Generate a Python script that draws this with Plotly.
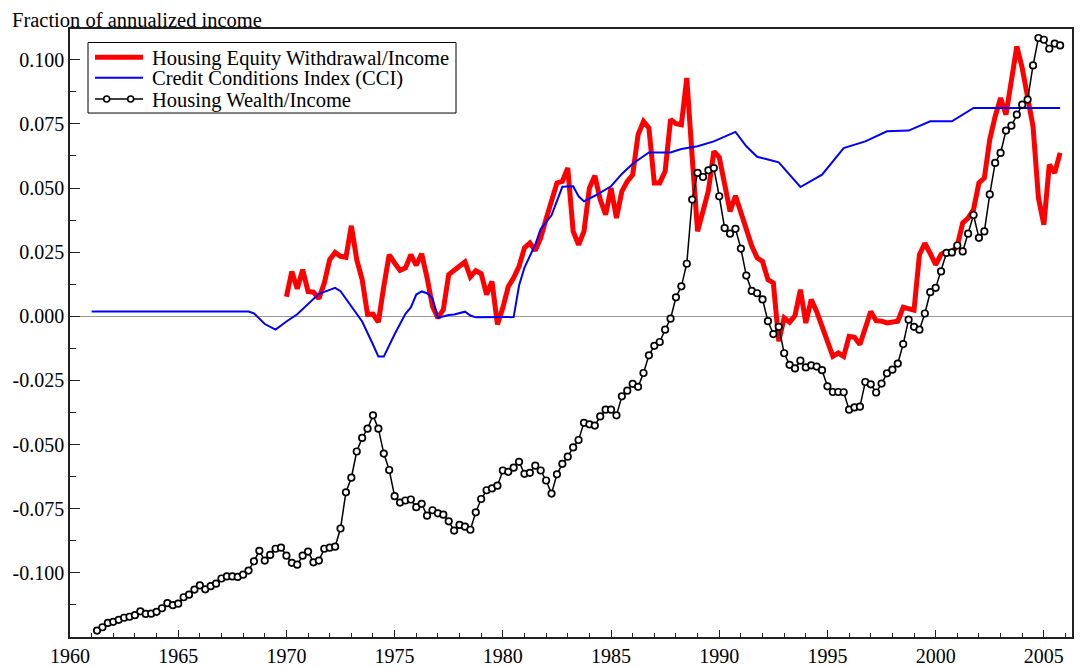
import numpy as np
import plotly.graph_objects as go

# quarterly dates
wealth_years = np.arange(1961.25, 2006.0, 0.25)
hew_years = np.arange(1970.0, 2006.0, 0.25)

# Housing Wealth/Income (scaled), 1961Q2 - 2005Q4
wealth = [
    -0.1225, -0.1212, -0.1195, -0.1191, -0.1183, -0.1175, -0.1171, -0.1165,
    -0.1150, -0.1160, -0.1159, -0.1152, -0.1138, -0.1118, -0.1126, -0.1120,
    -0.1095, -0.1085, -0.1065, -0.1049, -0.1064, -0.1052, -0.1042, -0.1022,
    -0.1014, -0.1014, -0.1016, -0.1007, -0.0991, -0.0955, -0.0914, -0.0952,
    -0.0930, -0.0906, -0.0902, -0.0933, -0.0961, -0.0968, -0.0933, -0.0917,
    -0.0959, -0.0952, -0.0906, -0.0902, -0.0898, -0.0827, -0.0686, -0.0629,
    -0.0527, -0.0474, -0.0438, -0.0386, -0.0438, -0.0535, -0.0599, -0.0701,
    -0.0726, -0.0718, -0.0714, -0.0744, -0.0731, -0.0777, -0.0756, -0.0768,
    -0.0773, -0.0799, -0.0835, -0.0813, -0.0820, -0.0832, -0.0764, -0.0712,
    -0.0678, -0.0671, -0.0660, -0.0601, -0.0606, -0.0590, -0.0567, -0.0614,
    -0.0610, -0.0582, -0.0601, -0.0640, -0.0691, -0.0616, -0.0575, -0.0547,
    -0.0511, -0.0482, -0.0415, -0.0421, -0.0426, -0.0390, -0.0364, -0.0364,
    -0.0386, -0.0312, -0.0290, -0.0263, -0.0275, -0.0221, -0.0152, -0.0115,
    -0.0100, -0.0052, -0.0009, 0.0074, 0.0117, 0.0205, 0.0455, 0.0559,
    0.0543, 0.0569, 0.0578, 0.0468, 0.0344, 0.0322, 0.0341, 0.0264,
    0.0159, 0.0099, 0.0090, 0.0066, -0.0019, -0.0069, -0.0041, -0.0144,
    -0.0189, -0.0203, -0.0173, -0.0199, -0.0191, -0.0196, -0.0210, -0.0273,
    -0.0295, -0.0295, -0.0296, -0.0364, -0.0355, -0.0352, -0.0256, -0.0265,
    -0.0297, -0.0262, -0.0222, -0.0208, -0.0184, -0.0108, -0.0013, -0.0041,
    -0.0052, 0.0011, 0.0094, 0.0111, 0.0175, 0.0247, 0.0249, 0.0276,
    0.0253, 0.0322, 0.0395, 0.0306, 0.0331, 0.0475, 0.0598, 0.0637,
    0.0724, 0.0743, 0.0786, 0.0825, 0.0845, 0.0978, 0.1085, 0.1078,
    0.1043, 0.1063, 0.1056,
]

# Housing Equity Withdrawal/Income, 1970Q1 - 2005Q4
hew = [
    0.0076, 0.0175, 0.0107, 0.0182, 0.0097, 0.0094, 0.0069, 0.0130,
    0.0221, 0.0249, 0.0234, 0.0230, 0.0353, 0.0221, 0.0143, 0.0007,
    0.0009, -0.0023, 0.0117, 0.0240, 0.0208, 0.0179, 0.0189, 0.0240,
    0.0199, 0.0244, 0.0150, 0.0039, -0.0006, 0.0026, 0.0163, 0.0179,
    0.0198, 0.0212, 0.0154, 0.0178, 0.0166, 0.0085, 0.0136, -0.0032,
    0.0033, 0.0115, 0.0150, 0.0195, 0.0267, 0.0286, 0.0256, 0.0306,
    0.0380, 0.0452, 0.0520, 0.0526, 0.0578, 0.0331, 0.0279, 0.0331,
    0.0500, 0.0548, 0.0455, 0.0396, 0.0500, 0.0383, 0.0487, 0.0526,
    0.0552, 0.0708, 0.0760, 0.0734, 0.0520, 0.0520, 0.0565, 0.0767,
    0.0751, 0.0747, 0.0929, 0.0620, 0.0331, 0.0410, 0.0490, 0.0643,
    0.0620, 0.0515, 0.0409, 0.0470, 0.0403, 0.0331, 0.0275, 0.0228,
    0.0214, 0.0143, 0.0130, -0.0097, -0.0006, -0.0023, 0.0003, 0.0104,
    -0.0026, 0.0065, 0.0019, -0.0039, -0.0097, -0.0156, -0.0143, -0.0156,
    -0.0078, -0.0082, -0.0110, -0.0045, 0.0019, -0.0017, -0.0019, -0.0026,
    -0.0023, -0.0019, 0.0035, 0.0030, 0.0024, 0.0240, 0.0285, 0.0245,
    0.0201, 0.0242, 0.0253, 0.0249, 0.0276, 0.0364, 0.0383, 0.0416,
    0.0520, 0.0539, 0.0689, 0.0779, 0.0851, 0.0786, 0.0916, 0.1052,
    0.0968, 0.0857, 0.0740, 0.0461, 0.0357, 0.0591, 0.0559, 0.0637,
]

# Credit Conditions Index (scaled), read at the bends of the line
cci_years = [
    1961.0, 1968.25, 1968.5, 1969.0, 1969.5, 1970.0, 1970.5, 1971.0, 1971.5,
    1972.0, 1972.25, 1972.5, 1973.0, 1973.5, 1974.0, 1974.25, 1974.5, 1975.0,
    1975.5, 1975.75, 1976.0, 1976.25, 1976.5, 1976.75, 1977.0, 1977.5, 1977.75,
    1978.0, 1978.25, 1978.5, 1978.75, 1980.5, 1980.75, 1981.0, 1981.5, 1981.75,
    1982.25, 1982.75, 1983.25, 1983.5, 1983.75, 1984.25, 1985.0, 1985.5, 1986.0,
    1986.75, 1987.75, 1988.25, 1989.0, 1989.75, 1990.5, 1990.75, 1991.25,
    1991.75, 1992.25, 1992.75, 1993.75, 1994.75, 1995.75, 1996.75, 1997.75,
    1998.75, 1999.75, 2000.75, 2001.75, 2005.75,
]
cci = [
    0.0019, 0.0019, 0.0012, -0.0030, -0.0052, -0.0020, 0.0008, 0.0050, 0.0088,
    0.0103, 0.0111, 0.0098, 0.0040, -0.0020, -0.0110, -0.0157, -0.0157, -0.0070,
    0.0010, 0.0035, 0.0085, 0.0097, 0.0090, 0.0070, -0.0006, 0.0005, 0.0007,
    0.0012, 0.0018, 0.0003, -0.0004, -0.0003, 0.0120, 0.0190, 0.0280, 0.0340,
    0.0394, 0.0505, 0.0507, 0.0468, 0.0448, 0.0470, 0.0507, 0.0555, 0.0595,
    0.0639, 0.0639, 0.0652, 0.0663, 0.0682, 0.0710, 0.0719, 0.0663,
    0.0622, 0.0611, 0.0600, 0.0504, 0.0552, 0.0656, 0.0682, 0.0721,
    0.0724, 0.0760, 0.0760, 0.0812, 0.0812,
]

names = ["Housing Equity Withdrawal/Income", "Credit Conditions Index (CCI)", "Housing Wealth/Income"]

y_ticks = [-0.1, -0.075, -0.05, -0.025, 0.0, 0.025, 0.05, 0.075, 0.1]
y_labels = ["-0.100", "-0.075", "-0.050", "-0.025", "0.000", "0.025", "0.050", "0.075", "0.100"]
x_ticks = [1960, 1965, 1970, 1975, 1980, 1985, 1990, 1995, 2000, 2005]

font_name = "Liberation Serif, Times New Roman, serif"

# the page puts the figure 8px in from the top-left corner, so the figure
# is a bit smaller and everything below is given in window pixels
OFF = 8
W, H = 1084 - OFF, 668 - OFF
X0, X1, Y0, Y1 = 70, 1072, 29, 636.7          # plot box in window pixels
ML, MR, MT, MB = X0 - OFF, W - (X1 - OFF), Y0 - OFF, H - (Y1 - OFF)
PW, PH = X1 - X0, Y1 - Y0

def px(x):
    return (x - X0) / PW

def py(y):
    return (Y1 - y) / PH

fig = go.Figure()
fig.add_trace(go.Scatter(x=hew_years, y=hew, mode="lines", name=names[0],
                         line=dict(color="#ff0000", width=5)))
fig.add_trace(go.Scatter(x=cci_years, y=cci, mode="lines", name=names[1],
                         line=dict(color="#0000ff", width=2)))
fig.add_trace(go.Scatter(x=wealth_years, y=wealth, mode="lines+markers", name=names[2],
                         line=dict(color="black", width=1.5),
                         marker=dict(symbol="circle", size=6.5, color="white",
                                     line=dict(color="black", width=1.7))))

# hand-drawn legend box (tighter row spacing than plotly's own legend)
shapes = [dict(type="rect", xref="paper", yref="paper", x0=px(88), x1=px(456), y0=py(113), y1=py(42.5),
               line=dict(color="black", width=1), fillcolor="white", layer="above")]
rows = [57.3, 77.7, 99]
styles = [dict(color="#ff0000", width=5), dict(color="#0000ff", width=2), dict(color="black", width=1.5)]
annotations = []
for r, st, nm in zip(rows, styles, names):
    shapes.append(dict(type="line", xref="paper", yref="paper", x0=px(95), x1=px(143),
                       y0=py(r), y1=py(r), line=st, layer="above"))
    annotations.append(dict(text=nm, xref="paper", yref="paper", x=px(150), y=py(r + 1),
                            xanchor="left", yanchor="middle", showarrow=False,
                            font=dict(size=20.5)))
for cx in [106.7, 130.7]:
    shapes.append(dict(type="circle", xref="paper", yref="paper",
                       x0=px(cx - 3), x1=px(cx + 3), y0=py(rows[2] + 3), y1=py(rows[2] - 3),
                       line=dict(color="black", width=1.6), fillcolor="white", layer="above"))

annotations.append(dict(text="Fraction of annualized income", xref="paper", yref="paper",
                        x=px(10), y=py(20), xanchor="left", yanchor="middle",
                        showarrow=False, font=dict(size=20.5)))

fig.update_layout(
    width=W, height=H,
    margin=dict(l=ML, r=MR, t=MT, b=MB),
    paper_bgcolor="white", plot_bgcolor="white",
    font=dict(family=font_name, size=20, color="black"),
    showlegend=False,
    shapes=shapes,
    annotations=annotations,
)
fig.update_xaxes(
    range=[1960, 2006.3], tickvals=x_ticks, showgrid=False, zeroline=False, automargin=False,
    showline=True, linecolor="#222", linewidth=1.5, mirror=True,
    ticks="inside", ticklen=7, tickcolor="#222",
    minor=dict(ticks="inside", dtick=1, ticklen=4, tickcolor="#222", showgrid=False),
)
fig.update_yaxes(
    range=[-0.125, 0.112], tickvals=y_ticks, ticktext=y_labels, showgrid=False, automargin=False,
    zeroline=True, zerolinecolor="#999", zerolinewidth=1,
    showline=True, linecolor="#222", linewidth=1.5, mirror=True,
    ticks="inside", ticklen=10, tickcolor="#222",
    minor=dict(ticks="inside", dtick=0.0125, tick0=0, ticklen=6, tickcolor="#222", showgrid=False),
)

fig.write_html("out.html")
